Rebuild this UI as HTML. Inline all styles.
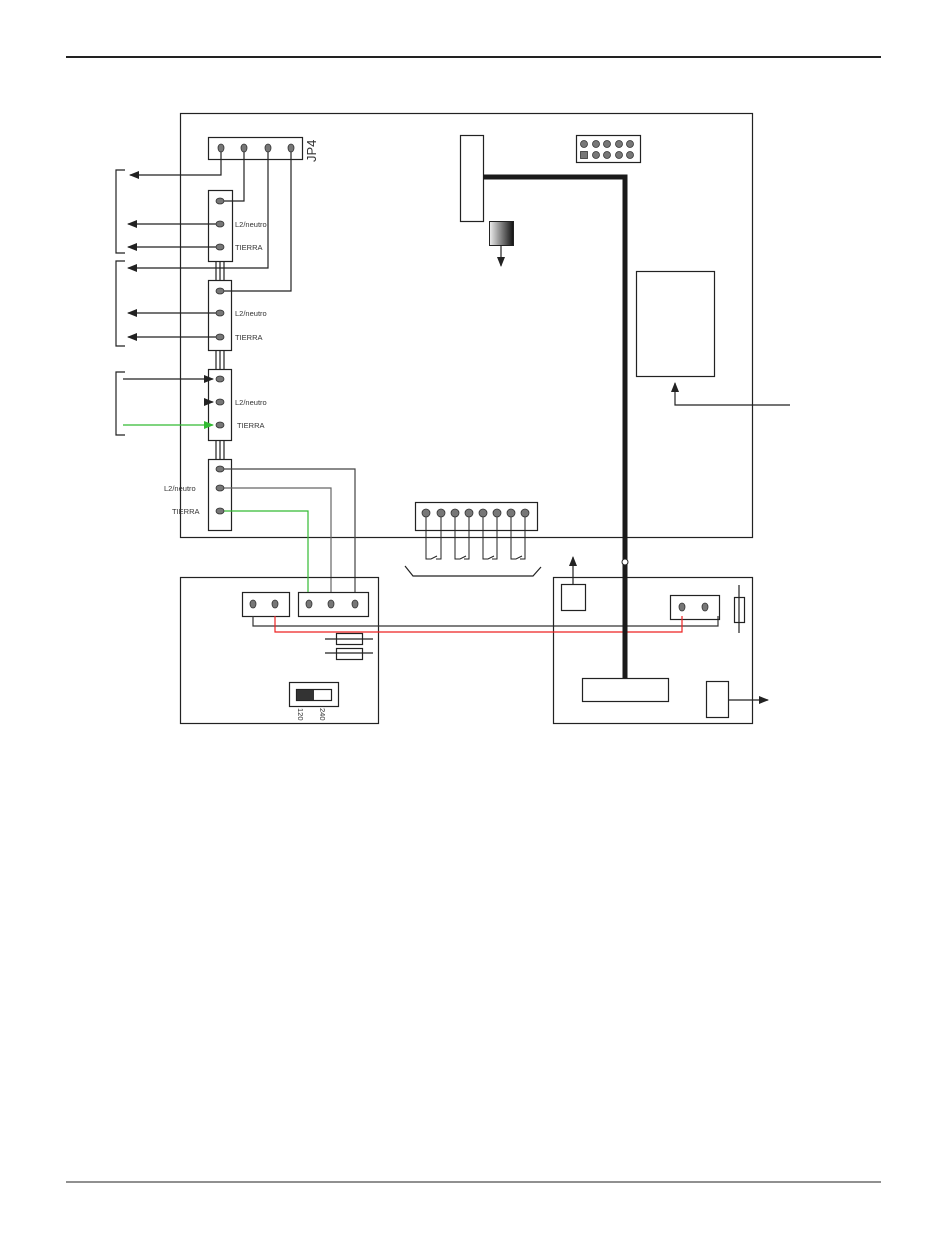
<!DOCTYPE html>
<html><head><meta charset="utf-8"><style>body{margin:0;background:#fff}svg{display:block}</style></head><body>
<svg width="950" height="1241" viewBox="0 0 950 1241" xmlns="http://www.w3.org/2000/svg" font-family="Liberation Sans, sans-serif">
<defs>
<marker id="a" markerWidth="10" markerHeight="8" refX="9" refY="4" orient="auto" markerUnits="userSpaceOnUse"><path d="M0,0 L10,4 L0,8z" fill="#222"/></marker>
<marker id="g" markerWidth="10" markerHeight="8" refX="9" refY="4" orient="auto" markerUnits="userSpaceOnUse"><path d="M0,0 L10,4 L0,8z" fill="#3b3"/></marker>
<linearGradient id="gr" x1="0" x2="1"><stop offset="0" stop-color="#eee"/><stop offset="1" stop-color="#111"/></linearGradient>
</defs>
<line x1="66" y1="57" x2="881" y2="57" stroke="#222" stroke-width="2"/>
<line x1="66" y1="1182" x2="881" y2="1182" stroke="#222" stroke-width="1"/>
<g fill="none" stroke="#222" stroke-width="1.2">
<rect x="180.5" y="113.5" width="572" height="424"/>
<rect x="208.5" y="137.5" width="94" height="22"/>
<rect x="208.5" y="190.5" width="24" height="71"/>
<rect x="208.5" y="280.5" width="23" height="70"/>
<rect x="208.5" y="369.5" width="23" height="71"/>
<rect x="208.5" y="459.5" width="23" height="71"/>
<path d="M216,261V280M220,261V280M224,261V280M216,350V369M220,350V369M224,350V369M216,440V459M220,440V459M224,440V459"/>
<path d="M125,170H116V253H125M125,261H116V346H125M125,372H116V435H125"/>
<path d="M221,148V175H130" marker-end="url(#a)"/>
<path d="M244,148V201H220"/>
<path d="M268,148V268H128" marker-end="url(#a)"/>
<path d="M291,148V291H220"/>
<path d="M220,224H128" marker-end="url(#a)"/>
<path d="M220,247H128" marker-end="url(#a)"/>
<path d="M220,313H128" marker-end="url(#a)"/>
<path d="M220,337H128" marker-end="url(#a)"/>
<path d="M123,379H213" marker-end="url(#a)"/>
<path d="M204,402H213" marker-end="url(#a)"/>
<path d="M220,469H355V592" stroke="#444"/>
<path d="M220,488H331V592" stroke="#666"/>
<rect x="460.5" y="135.5" width="23" height="86"/>
<rect x="576.5" y="135.5" width="64" height="27"/>
<rect x="636.5" y="271.5" width="78" height="105"/>
<path d="M790,405H675V383" marker-end="url(#a)"/>
<path d="M501,245V266" marker-end="url(#a)"/>
<rect x="415.5" y="502.5" width="122" height="28"/>
<path d="M405,566L413,576H533L541,567"/>
<path d="M573,585V557" marker-end="url(#a)"/>
<rect x="180.5" y="577.5" width="198" height="146"/>
<rect x="242.5" y="592.5" width="47" height="24"/>
<rect x="298.5" y="592.5" width="70" height="24"/>
<path d="M253,616V626H718V616" stroke="#333"/>
<rect x="336.5" y="633.5" width="26" height="11"/>
<rect x="336.5" y="648.5" width="26" height="11"/>
<path d="M325,639H373M325,653H373"/>
<rect x="289.5" y="682.5" width="49" height="24"/>
<rect x="296.5" y="689.5" width="35" height="11"/>
<rect x="553.5" y="577.5" width="199" height="146"/>
<rect x="561.5" y="584.5" width="24" height="26"/>
<rect x="670.5" y="595.5" width="49" height="24"/>
<rect x="734.5" y="597.5" width="10" height="25"/>
<path d="M739,585V633"/>
<rect x="582.5" y="678.5" width="86" height="23"/>
<rect x="706.5" y="681.5" width="22" height="36"/>
<path d="M728,700H768" marker-end="url(#a)"/>
</g>
<path d="M123,425H213" stroke="#3b3" stroke-width="1.2" fill="none" marker-end="url(#g)"/>
<path d="M220,511H308V592" stroke="#3b3" stroke-width="1.2" fill="none"/>
<path d="M275,616V632H682V616" stroke="#e22" stroke-width="1.2" fill="none"/>
<rect x="297" y="690" width="17" height="10" fill="#333"/>
<rect x="489.5" y="221.5" width="24" height="24" fill="url(#gr)" stroke="#222"/>
<path d="M483,177H625V678" stroke="#1a1a1a" stroke-width="5" fill="none"/>
<circle cx="625" cy="562" r="3" fill="#fff" stroke="#222"/>
<g fill="#777" stroke="#333" stroke-width="0.8">
<ellipse cx="221" cy="148" rx="3" ry="4"/><ellipse cx="244" cy="148" rx="3" ry="4"/><ellipse cx="268" cy="148" rx="3" ry="4"/><ellipse cx="291" cy="148" rx="3" ry="4"/>
<ellipse cx="220" cy="201" rx="4" ry="3"/><ellipse cx="220" cy="224" rx="4" ry="3"/><ellipse cx="220" cy="247" rx="4" ry="3"/>
<ellipse cx="220" cy="291" rx="4" ry="3"/><ellipse cx="220" cy="313" rx="4" ry="3"/><ellipse cx="220" cy="337" rx="4" ry="3"/>
<ellipse cx="220" cy="379" rx="4" ry="3"/><ellipse cx="220" cy="402" rx="4" ry="3"/><ellipse cx="220" cy="425" rx="4" ry="3"/>
<ellipse cx="220" cy="469" rx="4" ry="3"/><ellipse cx="220" cy="488" rx="4" ry="3"/><ellipse cx="220" cy="511" rx="4" ry="3"/>
<ellipse cx="253" cy="604" rx="3" ry="4"/><ellipse cx="275" cy="604" rx="3" ry="4"/>
<ellipse cx="309" cy="604" rx="3" ry="4"/><ellipse cx="331" cy="604" rx="3" ry="4"/><ellipse cx="355" cy="604" rx="3" ry="4"/>
<ellipse cx="682" cy="607" rx="3" ry="4"/><ellipse cx="705" cy="607" rx="3" ry="4"/>
<circle cx="584" cy="144" r="3.5"/><circle cx="596" cy="144" r="3.5"/><circle cx="607" cy="144" r="3.5"/><circle cx="619" cy="144" r="3.5"/><circle cx="630" cy="144" r="3.5"/>
<rect x="580.5" y="151.5" width="7" height="7"/><circle cx="596" cy="155" r="3.5"/><circle cx="607" cy="155" r="3.5"/><circle cx="619" cy="155" r="3.5"/><circle cx="630" cy="155" r="3.5"/>
<circle cx="426" cy="513" r="4"/><circle cx="441" cy="513" r="4"/><circle cx="455" cy="513" r="4"/><circle cx="469" cy="513" r="4"/><circle cx="483" cy="513" r="4"/><circle cx="497" cy="513" r="4"/><circle cx="511" cy="513" r="4"/><circle cx="525" cy="513" r="4"/>
</g>
<g fill="none" stroke="#222" stroke-width="1">
<path d="M426,517V559H431L437,556M441,517V559H436"/>
<path d="M455,517V559H460L466,556M469,517V559H464"/>
<path d="M483,517V559H488L494,556M497,517V559H492"/>
<path d="M511,517V559H516L522,556M525,517V559H520"/>
</g>
<g font-size="7.5" fill="#333">
<text x="235" y="227">L2/neutro</text><text x="235" y="250">TIERRA</text>
<text x="235" y="316">L2/neutro</text><text x="235" y="340">TIERRA</text>
<text x="235" y="405">L2/neutro</text><text x="237" y="428">TIERRA</text>
<text x="164" y="491">L2/neutro</text><text x="172" y="514">TIERRA</text>
<text transform="translate(298,708) rotate(90)">120</text>
<text transform="translate(320,708) rotate(90)">240</text>
</g>
<text transform="translate(316,162) rotate(-90)" font-size="13" fill="#333">JP4</text>
</svg>
</body></html>
